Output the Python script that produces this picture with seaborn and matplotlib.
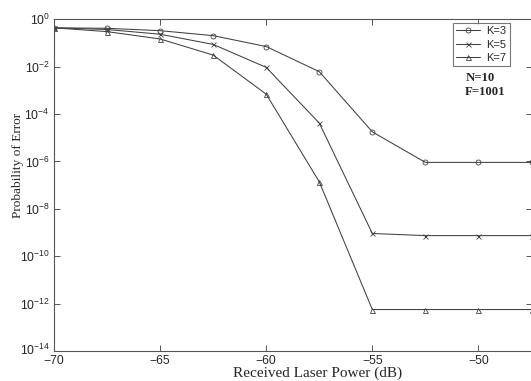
import numpy as np
import pandas as pd
import matplotlib
matplotlib.use('Agg')
import matplotlib.pyplot as plt
from matplotlib.ticker import FixedLocator, FuncFormatter
from matplotlib.transforms import offset_copy
import seaborn as sns

sns.set_style('ticks')
plt.rcParams['font.family'] = ['Liberation Sans', 'DejaVu Sans']
plt.rcParams['mathtext.fontset'] = 'custom'
plt.rcParams['mathtext.rm'] = 'Liberation Sans'

# received power (dB)
power = [-70, -67.5, -65, -62.5, -60, -57.5, -55, -52.5, -50, -47.5]
# log10 of probability of error
logpe_k3 = [-0.36, -0.38, -0.48, -0.69, -1.15, -2.21, -4.75, -6.04, -6.04, -6.04]
logpe_k5 = [-0.36, -0.43, -0.63, -1.06, -2.03, -4.38, -9.04, -9.13, -9.13, -9.13]
logpe_k7 = [-0.36, -0.52, -0.83, -1.51, -3.16, -6.86, -12.25, -12.25, -12.25, -12.25]
k_labels = ['K=3', 'K=5', 'K=7']
k_markers = ['o', 'x', '^']

fig = plt.figure(figsize=(5.31, 3.81), dpi=100)
ax = fig.add_axes([54 / 531, 1 - 351 / 381, (531.5 - 54) / 531, (351 - 19.3) / 381])

line_col = '#404040'
for vals, lab, mk in zip([logpe_k3, logpe_k5, logpe_k7], k_labels, k_markers):
    d = pd.DataFrame({'power': power, 'pe': 10.0 ** np.array(vals)})
    sns.lineplot(data=d, x='power', y='pe', color=line_col, marker=mk,
                 markersize=3.6, markerfacecolor='none', markeredgecolor=line_col,
                 markeredgewidth=0.6, linewidth=0.75, label=lab, ax=ax)

ax.set_yscale('log')
ax.set_xlim(-70, -47.5)
ax.set_ylim(1e-14, 1)
ax.yaxis.set_major_locator(FixedLocator([10.0 ** e for e in range(-14, 1, 2)]))
ax.yaxis.set_minor_locator(FixedLocator([]))
ax.yaxis.set_major_formatter(FuncFormatter(
    lambda v, p: r'$\mathregular{10^{%d}}$' % round(np.log10(v))))
ax.set_xticks([-70, -65, -60, -55, -50])
ax.tick_params(direction='in', length=4, width=0.7, color='#555555',
               labelsize=8.8, top=True, right=True)
ax.tick_params(axis='x', pad=3)
ax.tick_params(axis='y', pad=3)
for s in ax.spines.values():
    s.set_color('#555555')
    s.set_linewidth(0.8)

ax.set_xlabel('Received Laser Power (dB)', family='Liberation Serif', fontsize=11)
ax.xaxis.set_label_coords((318 - 54) / 477.5, (351 - 380.5) / 331.7)
ax.xaxis.label.set_va('bottom')
ax.set_ylabel('Probability of Error', family='Liberation Serif', fontsize=9.6)
ax.yaxis.set_label_coords((18 - 54) / 477.5, (351 - 165) / 331.7)
ax.yaxis.label.set_va('center')

h, l = ax.get_legend_handles_labels()
leg = ax.legend(h, k_labels, loc='upper left', bbox_to_anchor=(453 / 531, 1 - 23 / 381),
                bbox_transform=fig.transFigure, fontsize=8, frameon=True, fancybox=False,
                handlelength=2.1, borderpad=0.3, labelspacing=0.3, handletextpad=0.6,
                borderaxespad=0)
leg.get_frame().set_edgecolor('#555555')
leg.get_frame().set_linewidth(0.8)

fig.text(466 / 531, 1 - 78 / 381, 'N=10', family='Liberation Serif', fontsize=9.2,
         fontweight='bold', va='center')
fig.text(465 / 531, 1 - 92 / 381, 'F=1001', family='Liberation Serif', fontsize=9.2,
         fontweight='bold', va='center')

# lift the bottom y label a touch so it clears the -70 label
fig.canvas.draw()
bottom_lab = ax.yaxis.get_major_ticks()[0].label1
bottom_lab.set_transform(offset_copy(bottom_lab.get_transform(), fig=fig, y=1.8, units='points'))

fig.savefig('out.png', dpi=100)
